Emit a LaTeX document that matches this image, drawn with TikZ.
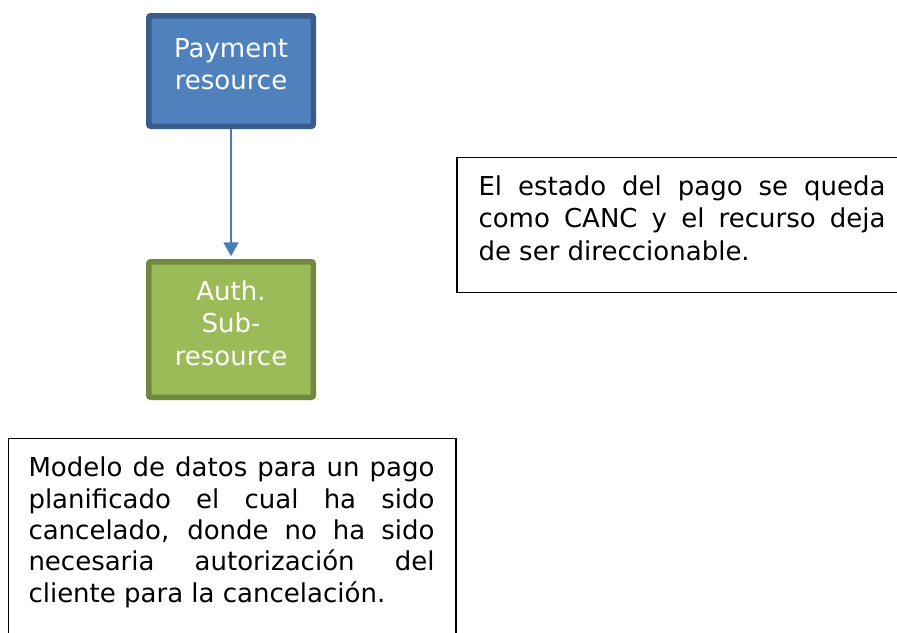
\documentclass[tikz,border=0pt]{standalone}
\usepackage{fontspec}
\setmainfont{DejaVu Sans}
\usetikzlibrary{arrows.meta}
\definecolor{boxblue}{HTML}{4F81BD}
\definecolor{boxblueline}{HTML}{385D8A}
\definecolor{boxgreen}{HTML}{9BBB59}
\definecolor{boxgreenline}{HTML}{71893F}
\definecolor{arrowblue}{HTML}{4A7EBB}
\tikzset{
  shapebox/.style={rectangle, rounded corners=2pt, line width=5.5pt, inner sep=0pt},
  bluebox/.style={shapebox, draw=boxblueline, fill=boxblue, minimum width=164.5pt, minimum height=110.5pt},
  greenbox/.style={shapebox, draw=boxgreenline, fill=boxgreen, minimum width=164.5pt, minimum height=135.5pt},
  boxtext/.style={text=white, inner sep=0pt, anchor=base, font=\fontsize{26}{32.5}\selectfont},
  notebox/.style={rectangle, draw=black, line width=1.6pt, inner sep=0pt},
  notetext/.style={text=black, inner sep=0pt, anchor=base west},
  link/.style={draw=arrowblue, line width=2pt, -{Triangle[width=15pt,length=14pt]}}
}
\begin{document}
\begin{tikzpicture}[x=1pt, y=-1pt]
\useasboundingbox (0,0) rectangle (897,632);
\clip (0,0) rectangle (897,632);
\fill[white] (0,0) rectangle (897,632);
% coloured boxes
\node[bluebox] (pay) at (231,71) {};
\node[greenbox] (auth) at (231,329.5) {};
\node[boxtext] (paytext) at (231,57) {\begin{tabular}[t]{@{}c@{}}Payment\\resource\end{tabular}};
\node[boxtext] (authtext) at (231,300) {\begin{tabular}[t]{@{}c@{}}Auth.\\Sub-\\resource\end{tabular}};
\draw[link] (pay.south) -- ([yshift=2.75pt]auth.north);
% note boxes
\node[notebox, minimum width=480pt, minimum height=135pt, anchor=north west] (noteR) at (456,156.7) {};
\node[notebox, minimum width=447.5pt, minimum height=230pt, anchor=north west] (noteB) at (7.5,437.7) {};
\node[notetext, font=\fontsize{26}{32.2}\selectfont] (noteRtext) at (478.3,195.7)
  {\begin{tabular}[t]{@{}l@{}}\makebox[407pt][s]{El estado del pago se queda}\\
   \makebox[407pt][s]{como CANC y el recurso deja}\\
   de ser direccionable.\end{tabular}};
\node[notetext, font=\fontsize{26}{31.4}\selectfont] (noteBtext) at (28.3,476.7)
  {\begin{tabular}[t]{@{}l@{}}\makebox[406pt][s]{Modelo de datos para un pago}\\
   \makebox[406pt][s]{planificado el cual ha sido}\\
   \makebox[406pt][s]{cancelado, donde no ha sido}\\
   \makebox[406pt][s]{necesaria autorización del}\\
   cliente para la cancelación.\end{tabular}};
\end{tikzpicture}
\end{document}
